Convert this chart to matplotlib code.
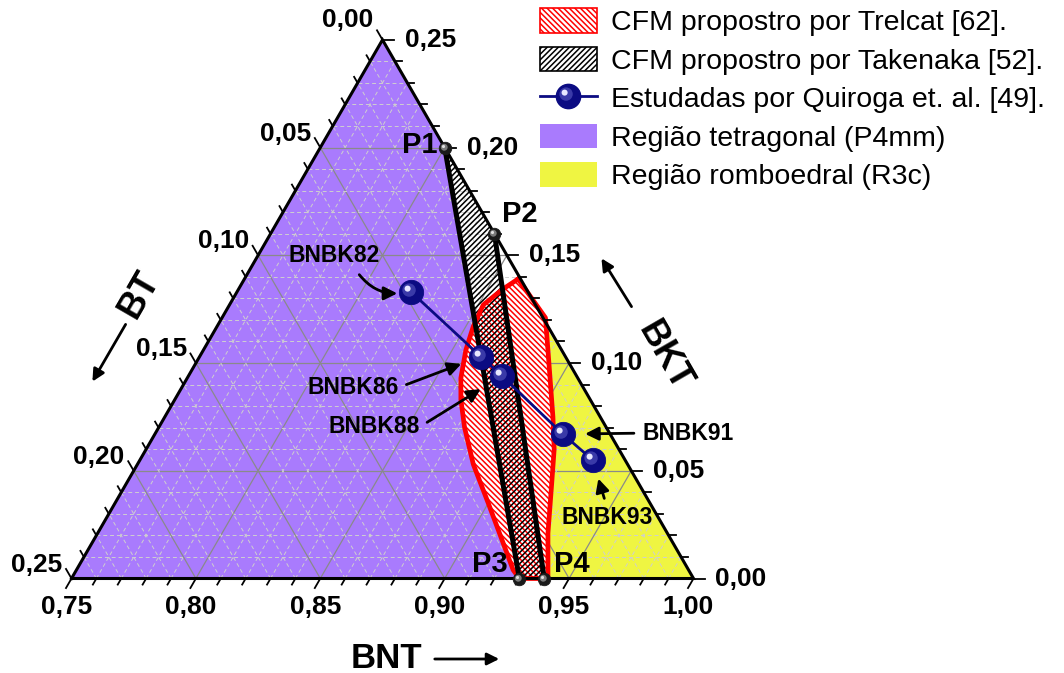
import numpy as np
import matplotlib
matplotlib.use("Agg")
import matplotlib.pyplot as plt
from matplotlib.patches import Polygon, Patch
from matplotlib.lines import Line2D
from matplotlib.markers import MarkerStyle
from matplotlib.transforms import Affine2D
from matplotlib.legend_handler import HandlerTuple

plt.rcParams["font.family"] = ["Liberation Sans", "DejaVu Sans"]
plt.rcParams["hatch.linewidth"] = 1.1

# ---------------- data (mole fractions BNT, BKT; BT = 1 - BNT - BKT) ----------------
tick_fracs = [0.00, 0.05, 0.10, 0.15, 0.20, 0.25]
bnt_ticks = [0.75, 0.80, 0.85, 0.90, 0.95, 1.00]

# Takenaka MPB corners
takenaka_names = ["P1", "P2", "P3", "P4"]
takenaka_bnt = [0.800, 0.840, 0.930, 0.940]
takenaka_bkt = [0.200, 0.160, 0.000, 0.000]

# Trelcat MPB outline: right branch (top -> bottom), left branch (bottom -> top)
trelcat_right_bnt = [0.860, 0.880, 0.8885, 0.906, 0.914, 0.921, 0.931, 0.9415]
trelcat_right_bkt = [0.139, 0.121, 0.106, 0.075, 0.060, 0.044, 0.021, 0.000]
trelcat_left_bnt = [0.930, 0.9255, 0.914, 0.900, 0.885, 0.873, 0.865, 0.860,
                    0.8555, 0.853, 0.852, 0.856]
trelcat_left_bkt = [0.000, 0.004, 0.018, 0.035, 0.053, 0.070, 0.083, 0.093,
                    0.106, 0.117, 0.127, 0.134]

# Compositions studied by Quiroga et al.
sample_names = ["BNBK82", "BNBK86", "BNBK88", "BNBK91", "BNBK93"]
sample_bnt = [0.820, 0.863, 0.876, 0.914, 0.932]
sample_bkt = [0.133, 0.103, 0.094, 0.067, 0.055]

# ---------------- colours ----------------
PURPLE = "#a97bfd"
YELLOW = "#eff542"
NAVY = "#0b0b82"

SQ = np.sqrt(3) / 2


def to_xy(bnt, bkt):
    bnt = np.asarray(bnt, float)
    bkt = np.asarray(bkt, float)
    return (bnt - 0.75) + 0.5 * bkt, SQ * bkt


W, H = 1064, 673
K = 2488.0            # pixels per unit mole fraction
X0, Y0 = 71.5, 578.5  # pixel position of the BNT=0.75 / BT=0.25 corner

fig = plt.figure(figsize=(W / 100, H / 100), dpi=100)
ax = fig.add_axes([0, 0, 1, 1])
ax.set_xlim(-X0 / K, (W - X0) / K)
ax.set_ylim(-(H - Y0) / K, Y0 / K)
ax.axis("off")


def L(px_, py_):
    """Layout helper: figure pixel -> axes data coordinates."""
    return (px_ - X0) / K, (Y0 - py_) / K


# ---------------- filled regions ----------------
tri_x, tri_y = to_xy([0.75, 1.0, 0.75], [0.0, 0.0, 0.25])

px_, py_ = to_xy([0.75, 0.75, takenaka_bnt[0], takenaka_bnt[2]],
                 [0.0, 0.25, takenaka_bkt[0], takenaka_bkt[2]])
ax.add_patch(Polygon(np.c_[px_, py_], closed=True, fc=PURPLE, ec="none", zorder=1))

yx, yy = to_xy(trelcat_right_bnt + [1.0], trelcat_right_bkt + [0.0])
ax.add_patch(Polygon(np.c_[yx, yy], closed=True, fc=YELLOW, ec="none", zorder=1))

order = [0, 1, 3, 2]
tk_x, tk_y = to_xy([takenaka_bnt[i] for i in order], [takenaka_bkt[i] for i in order])
ax.add_patch(Polygon(np.c_[tk_x, tk_y], closed=True, fc="white", ec="none", zorder=1.5))

# ---------------- grid ----------------
for k in range(1, 25):
    v = k / 100
    if k % 5 == 0:
        st = dict(color="#8a8a8a", lw=0.9, ls="-")
    else:
        st = dict(color="#cfcfcf", lw=0.7, ls=(0, (4, 3)))
    for bn, bk in (([0.75, 1 - v], [v, v]),
                   ([1 - v, 0.75], [0.0, 0.25 - v]),
                   ([0.75 + v, 0.75 + v], [0.0, 0.25 - v])):
        gx, gy = to_xy(bn, bk)
        ax.plot(gx, gy, zorder=2, **st)

# ---------------- Trelcat and Takenaka regions ----------------
HATCH_RED = "\\" * 6
HATCH_BLACK = "/" * 6
tr_bnt = trelcat_right_bnt + trelcat_left_bnt
tr_bkt = trelcat_right_bkt + trelcat_left_bkt
trx, try_ = to_xy(tr_bnt, tr_bkt)
ax.add_patch(Polygon(np.c_[trx, try_], closed=True, fc="white", ec="red", lw=0,
                     hatch=HATCH_RED, zorder=3))
ax.add_patch(Polygon(np.c_[tk_x, tk_y], closed=True, fc="none", ec="black", lw=0,
                     hatch=HATCH_BLACK, zorder=3.5))
ax.plot(np.r_[trx, trx[0]], np.r_[try_, try_[0]], color="red", lw=3.4,
        solid_joinstyle="round", zorder=4)

for a, b in ((0, 2), (1, 3)):
    lx, ly = to_xy([takenaka_bnt[a], takenaka_bnt[b]], [takenaka_bkt[a], takenaka_bkt[b]])
    ax.plot(lx, ly, color="black", lw=3.6, solid_capstyle="butt", zorder=5)

# ---------------- triangle frame, ticks, labels ----------------
ax.plot(np.r_[tri_x, tri_x[0]], np.r_[tri_y, tri_y[0]], color="black", lw=2.2,
        solid_joinstyle="miter", zorder=5)


def fmt(v):
    return f"{v:.2f}".replace(".", ",")


tick_kw = dict(fontsize=19, fontweight="bold", zorder=8)
for k in range(0, 26):
    v = k / 100
    ln = (11 if k % 5 == 0 else 7) / K
    # BNT (bottom), ticks pointing down-left
    bx, by = to_xy(0.75 + v, 0.0)
    ax.plot([bx, bx - 0.5 * ln], [by, by - SQ * ln], color="black", lw=1.3, zorder=5)
    # BT (left), ticks pointing up-left
    lx, ly = to_xy(0.75, 0.25 - v)
    ax.plot([lx, lx - 0.5 * ln], [ly, ly + SQ * ln], color="black", lw=1.3, zorder=5)
    # BKT (right), ticks pointing right
    rx, ry = to_xy(1 - v, v)
    ax.plot([rx, rx + ln], [ry, ry], color="black", lw=1.3, zorder=5)

for t in bnt_ticks:
    bx, by = to_xy(t, 0.0)
    ax.annotate(fmt(t), (bx, by), xytext=(-5, -17), textcoords="offset pixels",
                ha="center", va="top", **tick_kw)
for t in tick_fracs:
    lx, ly = to_xy(0.75, 0.25 - t)
    dy = 20 if t == 0 else 14
    ax.annotate(fmt(t), (lx, ly), xytext=(-9, dy), textcoords="offset pixels",
                ha="right", va="center", **tick_kw)
    rx, ry = to_xy(1 - t, t)
    ax.annotate(fmt(t), (rx, ry), xytext=(22, 0), textcoords="offset pixels",
                ha="left", va="center", **tick_kw)

# axis names with direction arrows
ax.text(*L(386, 668), "BNT", fontsize=25, fontweight="bold", ha="center", va="baseline")
ax.annotate("", xy=L(502, 659), xytext=L(432, 659),
            arrowprops=dict(arrowstyle="-|>", color="black", lw=2, mutation_scale=18))
ax.text(*L(139, 294), "BT", fontsize=26, fontweight="bold", ha="center", va="center",
        rotation=60, rotation_mode="anchor")
ax.annotate("", xy=L(91, 384), xytext=L(127, 322),
            arrowprops=dict(arrowstyle="-|>", color="black", lw=2, mutation_scale=18))
ax.text(*L(664, 356), "BKT", fontsize=26, fontweight="bold", ha="center", va="center",
        rotation=-60, rotation_mode="anchor")
ax.annotate("", xy=L(600, 256), xytext=L(633, 309),
            arrowprops=dict(arrowstyle="-|>", color="black", lw=2, mutation_scale=18))


# ---------------- spheres ----------------
def shaded(scale, dx, dy):
    return MarkerStyle("o", transform=Affine2D().scale(scale).translate(dx, dy))


def sphere(x, y, ms, base, mid, hi, z):
    ax.plot(x, y, ls="none", marker="o", ms=ms, mfc=base, mec=base, mew=0.6, zorder=z)
    ax.plot(x, y, ls="none", marker=shaded(0.55, -0.1, 0.1), ms=ms, mfc=mid,
            mec="none", zorder=z + 0.1)
    ax.plot(x, y, ls="none", marker=shaded(0.25, -0.16, 0.16), ms=ms, mfc=hi,
            mec="none", zorder=z + 0.2)


sx, sy = to_xy(sample_bnt, sample_bkt)
ax.plot(sx, sy, color=NAVY, lw=2, zorder=6)
sphere(sx, sy, 17.5, NAVY, "#3a3aa8", "#e8e8ff", 7)

px, py = to_xy(takenaka_bnt, takenaka_bkt)
sphere(px, py, 9, "#1a1a1a", "#7a7a7a", "#e0e0e0", 7)

p_off = {"P1": (-7, 3, "right"), "P2": (8, 20, "left"),
         "P3": (-12, 14, "right"), "P4": (10, 14, "left")}
for name, x, y in zip(takenaka_names, px, py):
    dx, dy, ha = p_off[name]
    ax.annotate(name, (x, y), xytext=(dx, dy), textcoords="offset pixels",
                ha=ha, va="center", fontsize=21, fontweight="bold", zorder=9)

# ---------------- sample labels with arrows ----------------
lab_off = {"BNBK82": (-77, 36, "arc3,rad=0.35", (0.72, 0.0), 10),
           "BNBK86": (-128, -31, "arc3", (1.0, 0.5), 15),
           "BNBK88": (-128, -51, "arc3", (1.0, 0.5), 18),
           "BNBK91": (125, 1, "arc3", (0.0, 0.5), 16),
           "BNBK93": (14, -58, "arc3", (0.5, 1.0), 14)}
for name, x, y in zip(sample_names, sx, sy):
    dx, dy, cs, rp, shr = lab_off[name]
    ax.annotate(name, (x, y), xytext=(dx, dy), textcoords="offset pixels",
                ha="center", va="center", fontsize=16.5, fontweight="bold", zorder=9,
                arrowprops=dict(arrowstyle="-|>", color="black", lw=2,
                                mutation_scale=20, connectionstyle=cs, relpos=rp,
                                shrinkA=4, shrinkB=shr))

# ---------------- legend ----------------
h_trel = Patch(facecolor="white", edgecolor="red", hatch=HATCH_RED, lw=1.2)
h_tak = Patch(facecolor="white", edgecolor="black", hatch=HATCH_BLACK, lw=1.2)
h_line = Line2D([], [], color=NAVY, lw=2, marker="o", ms=17.5, mfc=NAVY, mec=NAVY)
h_mid = Line2D([], [], ls="none", marker=shaded(0.55, -0.1, 0.1), ms=17.5,
               mfc="#3a3aa8", mec="none")
h_hi = Line2D([], [], ls="none", marker=shaded(0.25, -0.16, 0.16), ms=17.5,
              mfc="#e8e8ff", mec="none")
h_tet = Patch(facecolor=PURPLE, edgecolor="none")
h_rho = Patch(facecolor=YELLOW, edgecolor="none")
fig.legend([h_trel, h_tak, (h_line, h_mid, h_hi), h_tet, h_rho],
           ["CFM propostro por Trelcat [62].", "CFM propostro por Takenaka [52].",
            "Estudadas por Quiroga et. al. [49].", "Região tetragonal (P4mm)",
            "Região romboedral (R3c)"],
           handler_map={tuple: HandlerTuple(ndivide=1)},
           loc="upper left", bbox_to_anchor=(540 / W, 1 - 8 / H), frameon=False,
           fontsize=20.5, handlelength=2.0, handleheight=0.95, handletextpad=0.5,
           labelspacing=0.37, borderpad=0, borderaxespad=0)

fig.savefig("out.png", dpi=100)
